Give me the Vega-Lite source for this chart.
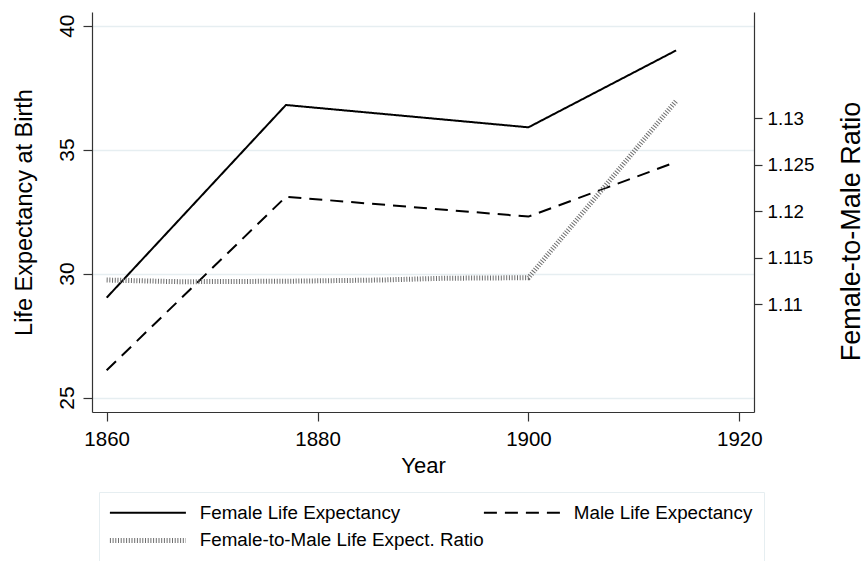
{
  "$schema": "https://vega.github.io/schema/vega-lite/v6.json",
  "width": 662,
  "height": 400,
  "autosize": {"type": "none"},
  "padding": {"left": 92, "top": 12, "right": 111, "bottom": 149},
  "background": "white",
  "config": {
    "font": "Liberation Sans",
    "view": {"stroke": null},
    "axis": {"domainColor": "#333333", "tickColor": "#333333", "labelColor": "#000000", "titleColor": "#000000", "titleFontWeight": "normal", "labelFont": "Liberation Sans", "titleFont": "Liberation Sans"}
  },
  "data": {
    "values": [
      {"series": "Female Life Expectancy", "year": 1860, "value": 29.03},
      {"series": "Female Life Expectancy", "year": 1877, "value": 36.8},
      {"series": "Female Life Expectancy", "year": 1900, "value": 35.9},
      {"series": "Female Life Expectancy", "year": 1914, "value": 39.0},
      {"series": "Male Life Expectancy", "year": 1860, "value": 26.1},
      {"series": "Male Life Expectancy", "year": 1877, "value": 33.1},
      {"series": "Male Life Expectancy", "year": 1900, "value": 32.3},
      {"series": "Male Life Expectancy", "year": 1914, "value": 34.5},
      {"series": "Female-to-Male Life Expect. Ratio", "year": 1860, "value": 1.11263},
      {"series": "Female-to-Male Life Expect. Ratio", "year": 1867, "value": 1.11245},
      {"series": "Female-to-Male Life Expect. Ratio", "year": 1877, "value": 1.1125},
      {"series": "Female-to-Male Life Expect. Ratio", "year": 1886, "value": 1.11263},
      {"series": "Female-to-Male Life Expect. Ratio", "year": 1892, "value": 1.11282},
      {"series": "Female-to-Male Life Expect. Ratio", "year": 1900, "value": 1.11288},
      {"series": "Female-to-Male Life Expect. Ratio", "year": 1914, "value": 1.13188}
    ]
  },
  "encoding": {
    "x": {
      "field": "year", "type": "quantitative",
      "scale": {"domain": [1858.61, 1921.39], "nice": false, "zero": false},
      "axis": {"values": [1860, 1880, 1900, 1920], "format": "d", "title": "Year", "grid": false,
        "tickSize": 9, "labelFontSize": 20.5, "labelPadding": 8, "titleFontSize": 22, "titlePadding": 6, "domainWidth": 1.2, "tickWidth": 1.2, "labelFlush": false}
    },
    "color": {
      "field": "series", "type": "nominal",
      "scale": {"domain": ["Female Life Expectancy", "Male Life Expectancy", "Female-to-Male Life Expect. Ratio"], "range": ["#000000", "#000000", "#6e6e6e"]},
      "legend": {
        "title": null, "orient": "none", "legendX": 7, "legendY": 480, "columns": 2, "direction": "horizontal",
        "symbolType": "M-1,0H7", "symbolSize": 361, "labelFontSize": 18.8, "labelLimit": 0, "labelOffset": 71,
        "padding": 11, "rowPadding": 7, "columnPadding": -5, "strokeColor": "#e6eef1", "fillColor": "white",
        "labelColor": "#000000", "symbolOpacity": 1,
        "encode": {"symbols": {"update": {"strokeWidth": {"signal": "datum.value === 'Female-to-Male Life Expect. Ratio' ? 5 : 2"}, "fill": {"value": "transparent"}}}}
      }
    },
    "strokeDash": {
      "field": "series", "type": "nominal",
      "scale": {"domain": ["Female Life Expectancy", "Male Life Expectancy", "Female-to-Male Life Expect. Ratio"], "range": [[1, 0], [13, 8], [1, 1.7]]},
      "legend": {
        "title": null, "orient": "none", "legendX": 7, "legendY": 480, "columns": 2, "direction": "horizontal",
        "symbolType": "M-1,0H7", "symbolSize": 361, "labelFontSize": 18.8, "labelLimit": 0, "labelOffset": 71,
        "padding": 11, "rowPadding": 7, "columnPadding": -5, "strokeColor": "#e6eef1", "fillColor": "white",
        "labelColor": "#000000", "symbolOpacity": 1,
        "encode": {"symbols": {"update": {"strokeWidth": {"signal": "datum.value === 'Female-to-Male Life Expect. Ratio' ? 5 : 2"}, "fill": {"value": "transparent"}}}}
      }
    }
  },
  "layer": [
    {
      "transform": [{"filter": "datum.series !== 'Female-to-Male Life Expect. Ratio'"}],
      "mark": {"type": "line", "strokeCap": "butt", "strokeWidth": 2},
      "encoding": {
        "y": {
          "field": "value", "type": "quantitative",
          "scale": {"domain": [24.42, 40.55], "nice": false, "zero": false},
          "axis": {"orient": "left", "values": [25, 30, 35, 40], "title": "Life Expectancy at Birth", "grid": true, "gridColor": "#e6eef1", "gridWidth": 1.5,
            "tickSize": 9, "labelAngle": 270, "labelAlign": "center", "labelBaseline": "bottom", "labelFontSize": 21, "labelPadding": 6,
            "titleFontSize": 23.5, "titleAngle": 270, "titleX": -68, "titleY": 200, "titleBaseline": "middle", "titleAlign": "center", "domainWidth": 1.2, "tickWidth": 1.2}
        }
      }
    },
    {
      "transform": [{"filter": "datum.series === 'Female-to-Male Life Expect. Ratio'"}],
      "mark": {"type": "line", "strokeCap": "butt", "strokeWidth": 5},
      "encoding": {
        "y": {
          "field": "value", "type": "quantitative",
          "scale": {"domain": [1.09844, 1.14145], "nice": false, "zero": false},
          "axis": {"orient": "right", "values": [1.11, 1.115, 1.12, 1.125, 1.13], "format": ".4~g", "title": "Female-to-Male Ratio", "grid": false,
            "tickSize": 8, "labelFontSize": 18.8, "labelPadding": 5,
            "titleFontSize": 27, "titleAngle": 270, "titleX": 97, "titleY": 219, "titleBaseline": "middle", "titleAlign": "center", "domainWidth": 1.2, "tickWidth": 1.2}
        }
      }
    }
  ],
  "resolve": {"scale": {"y": "independent"}}
}
